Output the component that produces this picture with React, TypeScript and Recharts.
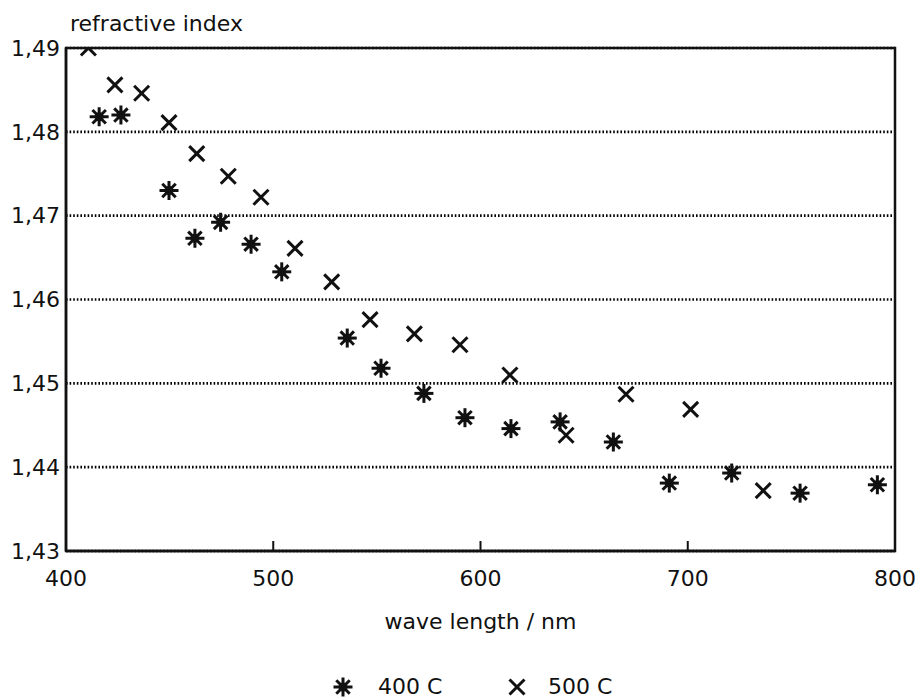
import {
  ScatterChart,
  Scatter,
  XAxis,
  YAxis,
  CartesianGrid,
  ReferenceArea,
  Legend,
} from "recharts";

// wavelengths (nm) and refractive index
const wavelength400 = [416, 426.5, 449.7, 462.2, 474.6, 489.3, 504.1, 535.7, 552, 572.7, 592.5, 614.7, 638.4, 664.1, 691.1, 721.2, 754.2, 791.5];
const index400 = [1.4818, 1.482, 1.473, 1.4673, 1.4692, 1.4666, 1.4633, 1.4554, 1.4518, 1.4488, 1.4459, 1.4446, 1.4454, 1.443, 1.4381, 1.4393, 1.4369, 1.4379];

const wavelength500 = [410.8, 423.6, 436.5, 449.7, 463.1, 478.3, 494.1, 510.5, 528.2, 546.7, 568.1, 590.1, 614.2, 641.3, 670.2, 701.4, 736.4];
const index500 = [1.49, 1.4856, 1.4846, 1.4811, 1.4774, 1.4747, 1.4722, 1.4661, 1.4621, 1.4576, 1.4559, 1.4546, 1.451, 1.4438, 1.4487, 1.4469, 1.4372];

const xTicks = [400, 500, 600, 700, 800];
const yTicks = [1.43, 1.44, 1.45, 1.46, 1.47, 1.48, 1.49];
const seriesNames = ["400 C", "500 C"];

const FONT = "'DejaVu Sans', sans-serif";
const INK = "#111";

const data400 = wavelength400.map((x, i) => ({ x, y: index400[i] }));
const data500 = wavelength500.map((x, i) => ({ x, y: index500[i] }));

const AsteriskIcon = ({ cx, cy }: any) => {
  const r = 9.5;
  const d = r * 0.7071;
  return (
    <g stroke={INK} strokeWidth={3}>
      <line x1={cx} y1={cy - r} x2={cx} y2={cy + r} />
      <line x1={cx - r} y1={cy} x2={cx + r} y2={cy} />
      <line x1={cx - d} y1={cy - d} x2={cx + d} y2={cy + d} />
      <line x1={cx - d} y1={cy + d} x2={cx + d} y2={cy - d} />
      <circle cx={cx} cy={cy} r={4.5} fill={INK} stroke="none" />
    </g>
  );
};

const CrossIcon = ({ cx, cy }: any) => {
  const r = 7.5;
  return (
    <g stroke={INK} strokeWidth={3}>
      <line x1={cx - r} y1={cy - r} x2={cx + r} y2={cy + r} />
      <line x1={cx - r} y1={cy + r} x2={cx + r} y2={cy - r} />
    </g>
  );
};

const YTitle = ({ viewBox }: any) => (
  <text x={viewBox.x + 70} y={viewBox.y - 17} fill={INK} fontSize={22} fontFamily={FONT}>
    refractive index
  </text>
);

const XTitle = ({ viewBox }: any) => (
  <text
    x={viewBox.x + viewBox.width / 2}
    y={viewBox.y + 78}
    fill={INK}
    fontSize={22}
    fontFamily={FONT}
    textAnchor="middle"
  >
    wave length / nm
  </text>
);

const LegendContent = () => (
  <div style={{ position: "relative", height: 24, width: 918, fontFamily: FONT, fontSize: 22, color: INK }}>
    <svg width={24} height={24} style={{ position: "absolute", left: 331, top: 0 }}>
      <AsteriskIcon cx={12} cy={12} />
    </svg>
    <span style={{ position: "absolute", left: 378, top: 0, lineHeight: "24px" }}>{seriesNames[0]}</span>
    <svg width={24} height={24} style={{ position: "absolute", left: 505, top: 0 }}>
      <CrossIcon cx={12} cy={12} />
    </svg>
    <span style={{ position: "absolute", left: 548, top: 0, lineHeight: "24px" }}>{seriesNames[1]}</span>
  </div>
);

export default function App() {
  return (
    <div style={{ position: "absolute", left: 0, top: 0, width: 918, height: 699, background: "#fff" }}>
      <ScatterChart width={918} height={699} margin={{ top: 48, right: 23, bottom: 0, left: 0 }}>
        <CartesianGrid
          vertical={false}
          stroke="#000"
          strokeWidth={2.6}
          strokeDasharray="1.6 2"
        />
        <XAxis
          type="number"
          dataKey="x"
          domain={[400, 800]}
          ticks={xTicks}
          height={124}
          tickSize={-10}
          tickMargin={29}
          axisLine={{ stroke: INK, strokeWidth: 2.5 }}
          tickLine={{ stroke: INK, strokeWidth: 2 }}
          tick={{ fill: INK, fontSize: 22, fontFamily: FONT }}
          label={<XTitle />}
        />
        <YAxis
          type="number"
          dataKey="y"
          domain={[1.43, 1.49]}
          ticks={yTicks}
          width={66}
          tickSize={0}
          tickMargin={6}
          allowDataOverflow
          tickFormatter={(v: number) => v.toFixed(2).replace(".", ",")}
          axisLine={{ stroke: INK, strokeWidth: 2.5 }}
          tick={{ fill: INK, fontSize: 22, fontFamily: FONT }}
          label={<YTitle />}
        />
        <ReferenceArea x1={400} x2={800} y1={1.43} y2={1.49} fill="none" stroke={INK} strokeWidth={2.5} />
        <Scatter name={seriesNames[0]} data={data400} shape={<AsteriskIcon />} isAnimationActive={false} />
        <Scatter name={seriesNames[1]} data={data500} shape={<CrossIcon />} isAnimationActive={false} />
        <Legend verticalAlign="bottom" wrapperStyle={{ left: 0, width: 918 }} content={<LegendContent />} />
      </ScatterChart>
    </div>
  );
}
